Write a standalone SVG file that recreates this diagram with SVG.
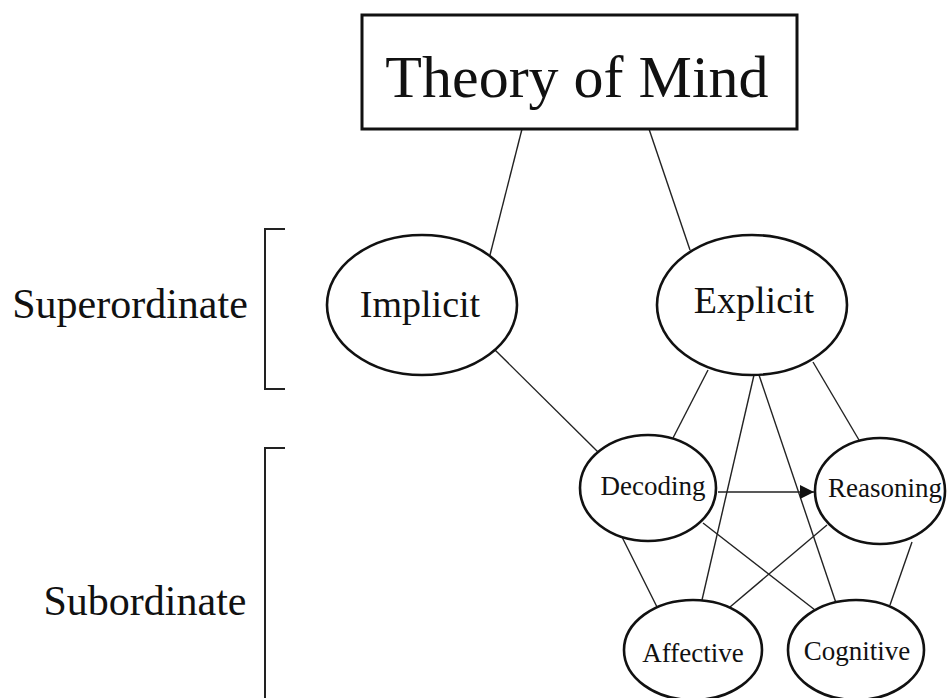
<svg xmlns="http://www.w3.org/2000/svg" width="947" height="698" viewBox="0 0 947 698">
<defs>
<style>
text{font-family:"Liberation Serif","Times New Roman",serif;fill:#111;text-anchor:middle}
.node ellipse{fill:#fff;stroke:#111;stroke-width:2.6}
.edge line{stroke:#222;stroke-width:1.4}
.br{fill:none;stroke:#222;stroke-width:2}
</style>
<marker id="arr" viewBox="0 0 10 10" refX="10" refY="5" markerWidth="14" markerHeight="14" markerUnits="userSpaceOnUse" orient="auto">
<path d="M0,0 L10,5 L0,10 z" fill="#111"/>
</marker>
</defs>
<rect width="947" height="698" fill="#fff"/>
<g id="labels">
<text x="130" y="318" font-size="42">Superordinate</text>
<path class="br" d="M285,229 H265 V389 H285"/>
<text x="145" y="615" font-size="42">Subordinate</text>
<path class="br" d="M285,448 H265 V700"/>
</g>
<g id="connectors" class="edge">
<line x1="522" y1="129" x2="490" y2="255"/>
<line x1="649" y1="129" x2="690" y2="250"/>
<line x1="495" y1="350" x2="598" y2="452"/>
<line x1="708" y1="370" x2="673" y2="438"/>
<line x1="754" y1="375" x2="702" y2="600"/>
<line x1="759" y1="375" x2="836" y2="603"/>
<line x1="813" y1="362" x2="859" y2="440"/>
<line x1="622" y1="537" x2="657" y2="607"/>
<line x1="703" y1="523" x2="815" y2="610"/>
<line x1="827" y1="525" x2="730" y2="607"/>
<line x1="912" y1="542" x2="890" y2="605"/>
<line x1="718" y1="492" x2="814" y2="492" marker-end="url(#arr)"/>
</g>
<g id="tom" class="node">
<rect x="362" y="15" width="435" height="114" fill="#fff" stroke="#111" stroke-width="3"/>
<text x="577" y="97" font-size="60">Theory of Mind</text>
</g>
<g id="implicit" class="node">
<ellipse cx="422" cy="305" rx="95" ry="70"/>
<text x="420" y="317" font-size="38">Implicit</text>
</g>
<g id="explicit" class="node">
<ellipse cx="752" cy="305" rx="95" ry="70"/>
<text x="754" y="313" font-size="38">Explicit</text>
</g>
<g id="decoding" class="node">
<ellipse cx="648" cy="488" rx="68" ry="53"/>
<text x="653" y="495" font-size="27">Decoding</text>
</g>
<g id="reasoning" class="node">
<ellipse cx="880" cy="491" rx="65" ry="53"/>
<text x="885" y="497" font-size="27">Reasoning</text>
</g>
<g id="affective" class="node">
<ellipse cx="693" cy="650" rx="69" ry="50"/>
<text x="693" y="662" font-size="27">Affective</text>
</g>
<g id="cognitive" class="node">
<ellipse cx="856" cy="650" rx="68" ry="50"/>
<text x="857" y="660" font-size="27">Cognitive</text>
</g>
</svg>
